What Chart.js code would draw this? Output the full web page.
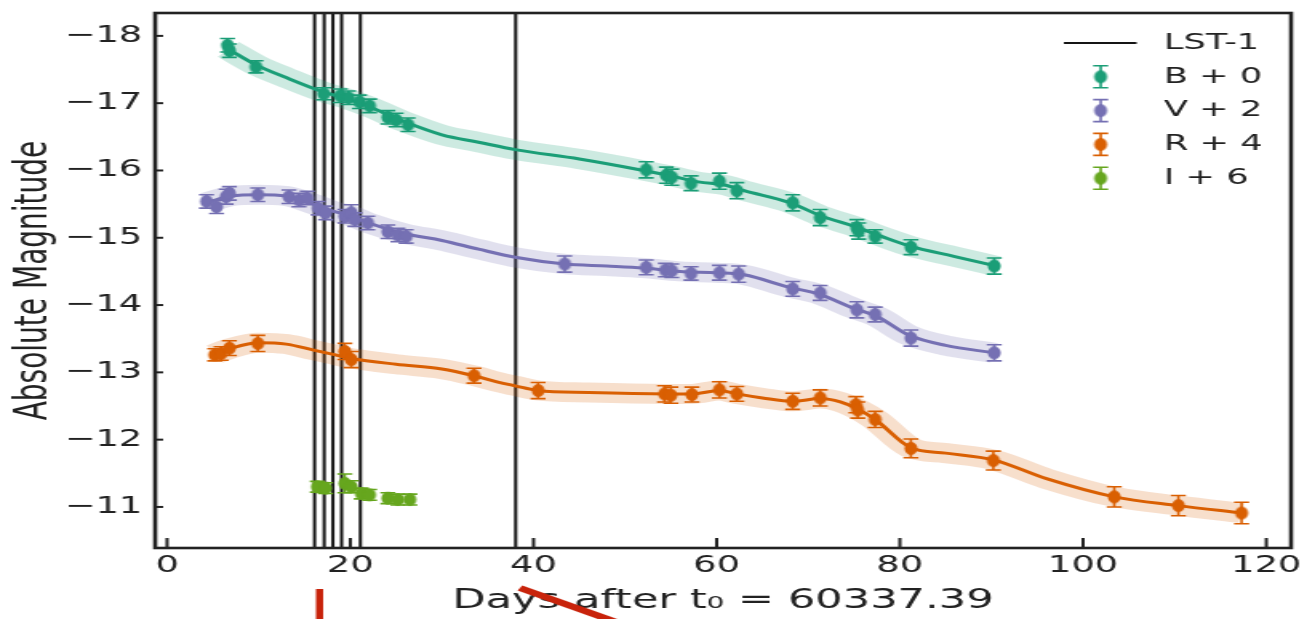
<!DOCTYPE html>
<html>
<head>
<meta charset="utf-8">
<title>Absolute magnitude light curves</title>
<script src="https://cdn.jsdelivr.net/npm/chart.js@4.4.1/dist/chart.umd.min.js"></script>
<style>
  html, body { margin: 0; padding: 0; background: #fff; overflow: hidden; }
  /* the source figure is stretched sideways, so draw narrow and scale */
  #wrap { width: 817px; height: 619px; transform: scaleX(1.59976); transform-origin: 0 0; }
</style>
</head>
<body>
<div id="wrap"><canvas id="lc"></canvas></div>
<script>
const STRETCH = 1307 / 817;

// axis ticks
const xTicks = [0, 20, 40, 60, 80, 100, 120];
const yTicks = [-18, -17, -16, -15, -14, -13, -12, -11];

// LST-1 observation days
const lstDays = [16.1, 17.15, 18.1, 19.05, 21.1, 38.05];

// B + 0
const bDays = [6.6, 6.8, 9.7, 17.1, 18.9, 19.8, 21.0, 22.1, 24.1, 25.0, 26.3,
  52.3, 54.5, 55.1, 57.2, 60.3, 62.2, 68.3, 71.3, 75.3, 75.5, 77.3, 81.2, 90.3];
const bMags = [-17.86, -17.78, -17.54, -17.14, -17.11, -17.08, -17.02, -16.96, -16.79, -16.75, -16.68,
  -16.01, -15.93, -15.90, -15.81, -15.84, -15.70, -15.52, -15.30, -15.15, -15.10, -15.02, -14.86, -14.58];
const bErr = [0.10, 0.10, 0.09, 0.09, 0.10, 0.10, 0.10, 0.10, 0.10, 0.10, 0.10,
  0.12, 0.12, 0.12, 0.11, 0.12, 0.12, 0.12, 0.12, 0.12, 0.12, 0.10, 0.11, 0.12];
const bFitDays = [6.7, 9.7, 13, 17, 20, 22, 26, 30, 34, 38, 45, 52, 55, 58, 61, 63, 68, 71.5, 75, 78, 81, 86, 90.5];
const bFitMags = [-17.80, -17.57, -17.38, -17.17, -17.05, -16.95, -16.72, -16.53, -16.42, -16.31, -16.17,
  -16.00, -15.92, -15.83, -15.78, -15.70, -15.52, -15.32, -15.17, -15.02, -14.88, -14.72, -14.58];

// V + 2
const vDays = [4.3, 5.4, 6.45, 6.8, 9.9, 13.3, 14.4, 15.3, 16.5, 17.3, 19.4, 20.1, 20.5, 21.9, 24.1, 25.2, 26.1,
  43.4, 52.3, 54.4, 55.1, 57.2, 60.3, 62.4, 68.3, 71.3, 75.3, 77.3, 81.2, 90.3];
const vMags = [-15.54, -15.46, -15.61, -15.66, -15.64, -15.61, -15.56, -15.59, -15.44, -15.37, -15.32, -15.37,
  -15.27, -15.22, -15.09, -15.04, -15.02, -14.61, -14.56, -14.52, -14.51, -14.47, -14.48, -14.46, -14.24,
  -14.18, -13.93, -13.86, -13.51, -13.29];
const vErr = [0.10, 0.10, 0.11, 0.10, 0.10, 0.10, 0.10, 0.10, 0.10, 0.10, 0.10, 0.12, 0.10, 0.10, 0.10, 0.10, 0.10,
  0.12, 0.11, 0.10, 0.10, 0.10, 0.11, 0.12, 0.11, 0.11, 0.12, 0.11, 0.12, 0.12];
const vFitDays = [4.3, 7, 10, 13, 16, 18, 20, 22, 26, 30, 34, 38, 43.4, 48, 52, 56, 60, 63, 68, 71, 75, 77.5, 81, 85, 90.3];
const vFitMags = [-15.52, -15.62, -15.64, -15.62, -15.50, -15.40, -15.33, -15.22, -15.06, -14.96, -14.83, -14.71,
  -14.61, -14.58, -14.55, -14.50, -14.48, -14.45, -14.26, -14.17, -13.95, -13.83, -13.55, -13.40, -13.29];

// R + 4
const rDays = [5.2, 5.9, 6.8, 9.9, 19.4, 20.1, 33.5, 40.5, 54.3, 55.0, 57.3, 60.3, 62.2, 68.3, 71.3,
  75.2, 75.4, 77.3, 81.2, 90.2, 103.4, 110.4, 117.3];
const rMags = [-13.26, -13.28, -13.36, -13.43, -13.31, -13.19, -12.95, -12.73, -12.68, -12.66, -12.67, -12.74,
  -12.68, -12.57, -12.62, -12.52, -12.44, -12.30, -11.87, -11.69, -11.15, -11.02, -10.91];
const rErr = [0.09, 0.10, 0.11, 0.12, 0.12, 0.12, 0.11, 0.12, 0.12, 0.12, 0.11, 0.12, 0.11, 0.12, 0.12,
  0.12, 0.12, 0.12, 0.14, 0.14, 0.15, 0.15, 0.16];
const rFitDays = [5.2, 7, 10, 13, 16, 18, 20, 25, 30, 33.5, 36, 38, 40.5, 46, 54.6, 57.3, 60.3, 62.2, 65, 68.3,
  71.3, 73.5, 75.3, 77.3, 81.2, 85, 90.2, 96, 103.4, 110.4, 117.3];
const rFitMags = [-13.27, -13.36, -13.44, -13.42, -13.33, -13.27, -13.21, -13.12, -13.05, -12.95, -12.86, -12.80,
  -12.73, -12.70, -12.68, -12.68, -12.73, -12.68, -12.62, -12.57, -12.61, -12.56, -12.46, -12.30, -11.88,
  -11.80, -11.70, -11.42, -11.15, -11.02, -10.91];

// I + 6
const iDays = [16.4, 17.3, 19.4, 20.1, 21.2, 22.1, 24.1, 25.2, 26.5];
const iMags = [-11.30, -11.28, -11.35, -11.30, -11.20, -11.18, -11.13, -11.11, -11.11];
const iErr = [0.08, 0.08, 0.14, 0.09, 0.08, 0.08, 0.08, 0.08, 0.08];

const pts = (days, mags) => days.map((d, i) => ({ x: d, y: mags[i] }));

// a dot that looks round once the page is stretched
function makeDot(color, r) {
  const rx = r / STRETCH;
  const c = document.createElement('canvas');
  c.width = Math.ceil(rx * 2) + 2;
  c.height = Math.ceil(r * 2) + 2;
  const g = c.getContext('2d');
  g.fillStyle = color;
  g.beginPath();
  g.ellipse(c.width / 2, c.height / 2, rx, r, 0, 0, Math.PI * 2);
  g.fill();
  return c;
}

const series = [
  { label: 'B + 0', color: '#1b9e77', band: 'rgba(27,158,119,0.22)', days: bDays, mags: bMags, err: bErr, fitDays: bFitDays, fitMags: bFitMags },
  { label: 'V + 2', color: '#7570b3', band: 'rgba(117,112,179,0.22)', days: vDays, mags: vMags, err: vErr, fitDays: vFitDays, fitMags: vFitMags },
  { label: 'R + 4', color: '#d95f02', band: 'rgba(217,95,2,0.2)', days: rDays, mags: rMags, err: rErr, fitDays: rFitDays, fitMags: rFitMags },
  { label: 'I + 6', color: '#66a61e', days: iDays, mags: iMags, err: iErr }
];

const datasets = [];
series.forEach(s => {
  s.dot = makeDot(s.color, 6.5);
  if (s.fitDays) {
    datasets.push({
      type: 'line', data: pts(s.fitDays, s.fitMags), borderColor: s.band, borderWidth: 20,
      pointRadius: 0, cubicInterpolationMode: 'monotone', borderCapStyle: 'butt', borderJoinStyle: 'round', order: 3
    });
    datasets.push({
      type: 'line', data: pts(s.fitDays, s.fitMags), borderColor: s.color, borderWidth: 3,
      pointRadius: 0, cubicInterpolationMode: 'monotone', order: 2
    });
  }
  datasets.push({
    type: 'scatter', label: s.label, data: pts(s.days, s.mags), errors: s.err,
    backgroundColor: s.color, borderColor: s.color, pointStyle: s.dot, pointRadius: 6.5, order: 1
  });
});

function drawErrorBar(ctx, x, y1, y2, cap) {
  ctx.beginPath();
  ctx.moveTo(x, y1); ctx.lineTo(x, y2);
  ctx.moveTo(x - cap, y1); ctx.lineTo(x + cap, y1);
  ctx.moveTo(x - cap, y2); ctx.lineTo(x + cap, y2);
  ctx.stroke();
}

const decorations = {
  id: 'decorations',
  beforeDatasetsDraw(chart) {
    const { ctx, chartArea: a, scales } = chart;
    ctx.save();
    ctx.strokeStyle = '#151515';
    ctx.lineWidth = 2;
    lstDays.forEach(d => {
      const px = scales.x.getPixelForValue(d);
      ctx.beginPath(); ctx.moveTo(px, a.top); ctx.lineTo(px, a.bottom); ctx.stroke();
    });
    ctx.restore();
  },
  beforeDatasetDraw(chart, args) {
    const ds = chart.data.datasets[args.index];
    if (!ds.errors) return;
    const { ctx, scales } = chart;
    ctx.save();
    ctx.strokeStyle = ds.borderColor;
    ctx.lineWidth = 1.6;
    ds.data.forEach((p, i) => {
      const e = ds.errors[i];
      drawErrorBar(ctx, scales.x.getPixelForValue(p.x),
        scales.y.getPixelForValue(p.y - e), scales.y.getPixelForValue(p.y + e), 4.7);
    });
    ctx.restore();
  },
  afterDatasetsDraw(chart) {
    const { ctx, chartArea: a, scales } = chart;
    ctx.save();
    ctx.strokeStyle = '#222';
    ctx.lineWidth = 2;
    xTicks.forEach(v => {
      const px = scales.x.getPixelForValue(v);
      ctx.beginPath(); ctx.moveTo(px, a.bottom); ctx.lineTo(px, a.bottom - 10); ctx.stroke();
    });
    yTicks.forEach(v => {
      const py = scales.y.getPixelForValue(v);
      ctx.beginPath(); ctx.moveTo(a.left, py); ctx.lineTo(a.left + 5, py); ctx.stroke();
    });
    ctx.lineWidth = 2.6;
    ctx.strokeRect(a.left, a.top, a.right - a.left, a.bottom - a.top);
    ctx.restore();
  },
  afterDraw(chart) {
    const { ctx, chartArea: a } = chart;
    ctx.save();
    // legend
    const rowY = k => a.top + 30 + k * 33.8;
    ctx.font = '22px "DejaVu Sans"';
    ctx.textBaseline = 'middle';
    ctx.fillStyle = '#222';
    ctx.strokeStyle = '#151515';
    ctx.lineWidth = 2;
    ctx.beginPath(); ctx.moveTo(a.right - 142, rowY(0)); ctx.lineTo(a.right - 96.5, rowY(0)); ctx.stroke();
    ctx.fillText('LST-1', a.right - 79.5, rowY(0));
    series.forEach((s, k) => {
      const y = rowY(k + 1), x = a.right - 119;
      ctx.strokeStyle = s.color;
      ctx.lineWidth = 1.6;
      drawErrorBar(ctx, x, y - 11, y + 11, 4.7);
      ctx.drawImage(s.dot, x - s.dot.width / 2, y - s.dot.height / 2);
      ctx.fillStyle = '#222';
      ctx.fillText(s.label, a.right - 79.5, y);
    });
    // red pen marks on the source image
    ctx.fillStyle = '#c8230b';
    ctx.fillRect(197.5, 589, 4.5, 30);
    ctx.strokeStyle = '#c8230b';
    ctx.lineWidth = 6;
    ctx.beginPath(); ctx.moveTo(325, 588); ctx.lineTo(385, 622); ctx.stroke();
    ctx.restore();
  }
};

Chart.defaults.font.family = '"DejaVu Sans", sans-serif';
Chart.defaults.color = '#222';

new Chart(document.getElementById('lc'), {
  type: 'scatter',
  data: { datasets },
  options: {
    responsive: true,
    maintainAspectRatio: false,
    animation: false,
    layout: { padding: { top: 13, right: 3, left: 0, bottom: 0 } },
    plugins: { legend: { display: false }, tooltip: { enabled: false } },
    scales: {
      x: {
        type: 'linear', min: -1.3, max: 122.7,
        afterBuildTicks: s => { s.ticks = xTicks.map(v => ({ value: v })); },
        afterFit: s => { s.height = 71; s.paddingLeft = 0; s.paddingRight = 0; },
        grid: { display: false, drawTicks: false },
        border: { display: false },
        ticks: { font: { size: 23 }, padding: 4, maxRotation: 0, autoSkip: false },
        title: { display: true, text: 'Days after t\u2080 = 60337.39', font: { size: 27 }, padding: { top: 0, bottom: 2 } }
      },
      y: {
        type: 'linear', reverse: true, min: -18.34, max: -10.39,
        afterBuildTicks: s => { s.ticks = yTicks.map(v => ({ value: v })); },
        afterFit: s => { s.width = 97; s.paddingTop = 0; s.paddingBottom = 0; },
        grid: { display: false, drawTicks: false },
        border: { display: false },
        ticks: { font: { size: 23 }, padding: 8, autoSkip: false, callback: v => (v < 0 ? '\u2212' : '') + Math.abs(v) },
        title: { display: true, text: 'Absolute Magnitude', font: { size: 28 }, padding: { top: 5, bottom: 0 } }
      }
    }
  },
  plugins: [decorations]
});
</script>
</body>
</html>
